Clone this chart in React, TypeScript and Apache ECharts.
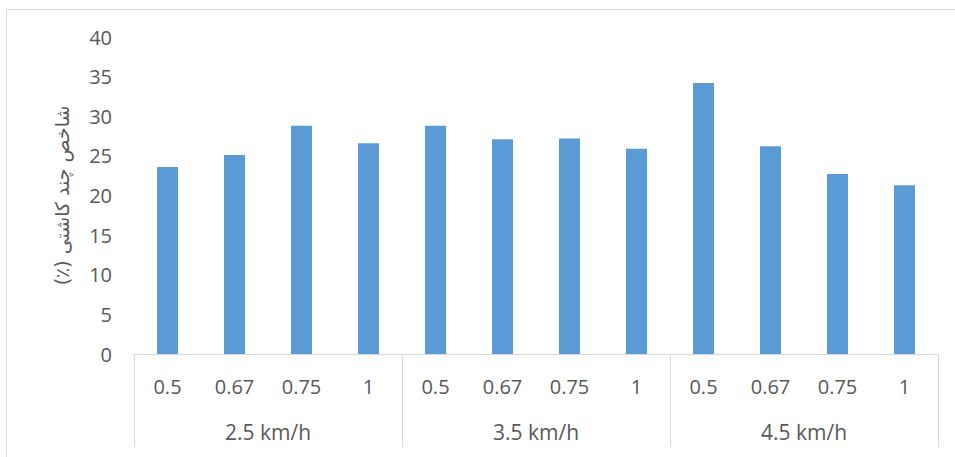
import React, { useEffect, useRef } from "react";
import * as echarts from "echarts";

const ratios = ["0.5", "0.67", "0.75", "1"];
const speeds = ["2.5 km/h", "3.5 km/h", "4.5 km/h"];
const values = [23.6, 25.1, 28.8, 26.6, 28.8, 27.1, 27.2, 25.9, 34.2, 26.2, 22.7, 21.3];
const yTitle = "(٪) شاخص چند کاشتی";

const categories: string[] = [];
speeds.forEach(() => ratios.forEach((r) => categories.push(r)));

export default function App() {
  const ref = useRef<HTMLDivElement>(null);
  useEffect(() => {
    if (!ref.current) return;
    const chart = echarts.init(ref.current, null, { renderer: "svg" });
    const textColor = "#595959";
    const lineColor = "#d9d9d9";
    const font = "'Open Sans', 'Noto Sans', 'DejaVu Sans', sans-serif";
    chart.setOption({
      animation: false,
      backgroundColor: "#ffffff",
      textStyle: { fontFamily: font },
      grid: { left: 134, right: 17, top: 37, bottom: 103 },
      graphic: [
        { type: "line", shape: { x1: 6, y1: 9.5, x2: 955, y2: 9.5 }, style: { stroke: lineColor, lineWidth: 1 } },
        { type: "line", shape: { x1: 6.5, y1: 9, x2: 6.5, y2: 457 }, style: { stroke: lineColor, lineWidth: 1 } },
      ],
      xAxis: [
        {
          type: "category",
          data: categories,
          position: "bottom",
          axisLine: { show: true, lineStyle: { color: lineColor, width: 1 } },
          axisTick: { show: false },
          axisLabel: { color: textColor, fontSize: 20, margin: 22, interval: 0, fontFamily: font },
        },
        {
          type: "category",
          data: speeds,
          position: "bottom",
          axisLine: { show: false },
          axisTick: { show: true, length: 93, interval: 0, lineStyle: { color: lineColor, width: 1 } },
          axisLabel: { color: textColor, fontSize: 21, margin: 67, interval: 0, fontFamily: font },
        },
      ],
      yAxis: {
        type: "value",
        min: 0,
        max: 40,
        interval: 5,
        splitLine: { show: false },
        axisLine: { show: false },
        axisTick: { show: false },
        axisLabel: { color: textColor, fontSize: 20, margin: 22, fontFamily: font },
        name: yTitle,
        nameLocation: "middle",
        nameGap: 63,
        nameTextStyle: { color: textColor, fontSize: 19, fontFamily: "'DejaVu Sans', 'Noto Sans', sans-serif" },
      },
      series: [
        {
          type: "bar",
          xAxisIndex: 0,
          data: values,
          barWidth: 21,
          itemStyle: { color: "#5B9BD5" },
        },
      ],
    });
    return () => chart.dispose();
  }, []);
  return (
    <div
      ref={ref}
      style={{ position: "fixed", left: 0, top: 0, width: 955, height: 457, background: "#fff" }}
    />
  );
}
